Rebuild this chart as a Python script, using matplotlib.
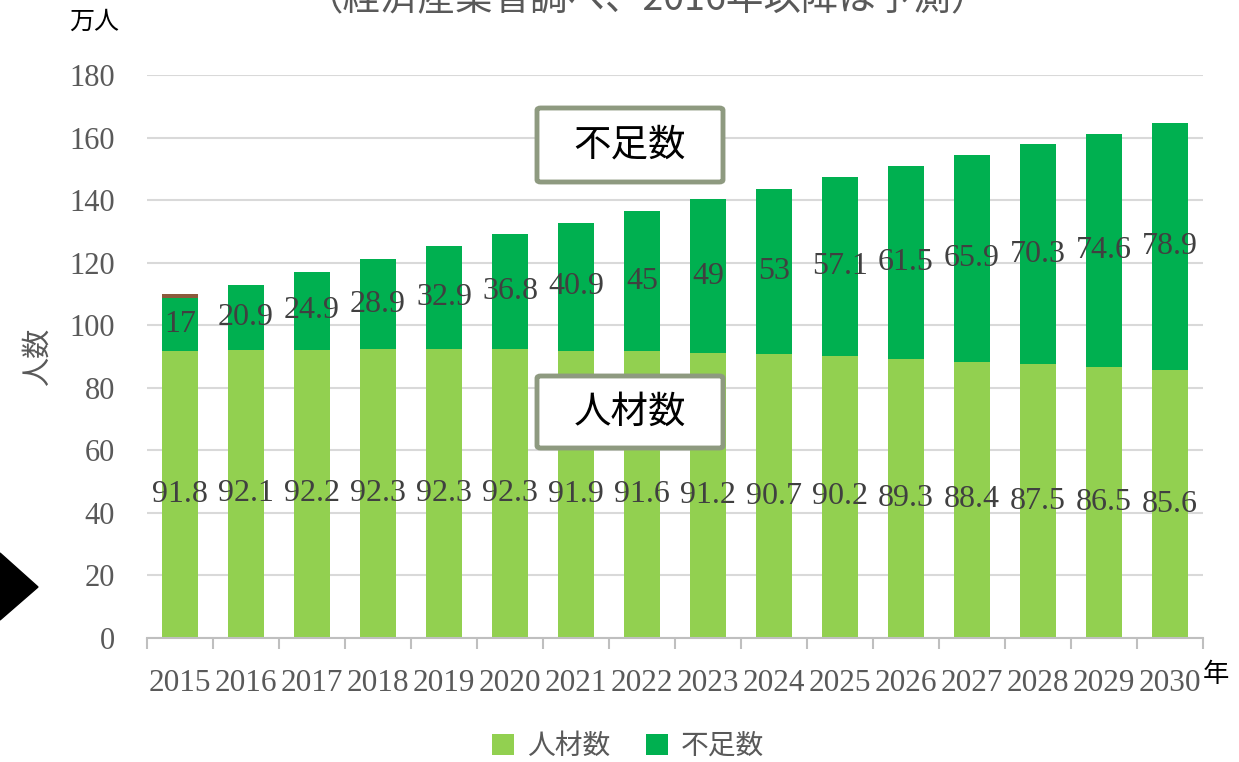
import matplotlib
matplotlib.use("Agg")
import matplotlib.pyplot as plt
from matplotlib.patches import Polygon, FancyBboxPatch
import numpy as np

CJK = ["Noto Sans CJK JP", "DejaVu Sans"]
SERIF = ["Liberation Serif", "DejaVu Serif"]

years = ["2015", "2016", "2017", "2018", "2019", "2020", "2021", "2022",
         "2023", "2024", "2025", "2026", "2027", "2028", "2029", "2030"]
jinzai = [91.8, 92.1, 92.2, 92.3, 92.3, 92.3, 91.9, 91.6,
          91.2, 90.7, 90.2, 89.3, 88.4, 87.5, 86.5, 85.6]
fusoku = [17, 20.9, 24.9, 28.9, 32.9, 36.8, 40.9, 45,
          49, 53, 57.1, 61.5, 65.9, 70.3, 74.6, 78.9]
cap_2015 = 1.3  # small brown segment on top of the 2015 bar

LIGHT = "#92D050"
GREEN = "#00B050"
BROWN = "#8B5A3C"
GRAY_TXT = "#595959"
LABEL_TXT = "#404040"
GRID = "#D9D9D9"
BOX = "#8E9A80"

W, H = 1239, 762
fig = plt.figure(figsize=(W / 100, H / 100), dpi=100, facecolor="white")
ax = fig.add_axes([147 / W, 1 - 638 / H, (1203 - 147) / W, (638 - 75) / H])

x = np.arange(len(years))
bw = 0.56
ax.bar(x, jinzai, bw, color=LIGHT, zorder=2, label="人材数")
ax.bar(x, fusoku, bw, bottom=jinzai, color=GREEN, zorder=2, label="不足数")
ax.bar(x[0], cap_2015, bw, bottom=jinzai[0] + fusoku[0], color=BROWN, zorder=2)

for xi, a, b in zip(x, jinzai, fusoku):
    ax.text(xi, a / 2, f"{a:g}", ha="center", va="center", fontsize=23,
            family=SERIF, color=LABEL_TXT, zorder=3)
    ax.text(xi, a + b / 2, f"{b:g}", ha="center", va="center", fontsize=23,
            family=SERIF, color=LABEL_TXT, zorder=3)

ax.set_xlim(-0.5, len(years) - 0.5)
ax.set_ylim(0, 180)
ax.set_yticks(np.arange(0, 181, 20))
ax.yaxis.grid(True, color=GRID, lw=1.5, zorder=0)
ax.set_axisbelow(True)
for s in ("top", "right", "left"):
    ax.spines[s].set_visible(False)
ax.spines["bottom"].set_color("#BFBFBF")
ax.spines["bottom"].set_linewidth(1.5)
ax.tick_params(axis="y", length=0, pad=23, labelsize=22, labelcolor=GRAY_TXT)
ax.set_yticklabels([str(v) for v in range(0, 181, 20)], family=SERIF)
ax.set_xticks(x)
ax.set_xticklabels(years, family=SERIF)
ax.tick_params(axis="x", which="major", length=0, pad=22, labelsize=22.5,
               labelcolor=GRAY_TXT)
ax.set_xticks(np.arange(-0.5, len(years)), minor=True)
ax.tick_params(axis="x", which="minor", length=8, width=1.5, color="#BFBFBF")

# axis captions
fig.text(38 / W, 1 - 357 / H, "人数", rotation=90, ha="center", va="center",
         fontsize=21, family=CJK, color=GRAY_TXT)
fig.text(94 / W, 1 - 22 / H, "万人", ha="center", va="center",
         fontsize=18, family=CJK, color="black")
fig.text(1216 / W, 1 - 674 / H, "年", ha="center", va="center",
         fontsize=19, family=CJK, color="black")
fig.text(648 / W, 1 + 1 / H, "（経済産業省調べ、2016年以降は予測）", ha="center",
         va="center", fontsize=27, family=CJK, color=GRAY_TXT)

# callout boxes
for label, y0, y1 in [("不足数", 108, 182), ("人材数", 376, 448)]:
    box = FancyBboxPatch((537 / W, 1 - y1 / H), (723 - 537) / W, (y1 - y0) / H,
                         boxstyle="round,pad=0,rounding_size=0.003",
                         transform=fig.transFigure, facecolor="white",
                         edgecolor=BOX, lw=3.5, zorder=5)
    fig.patches.append(box)
    fig.text(630 / W, 1 - (y0 + y1) / 2 / H, label, ha="center", va="center",
             fontsize=27, family=CJK, color="black", zorder=6)

# black arrow head on the left edge
tri = Polygon([(0, 1 - 553 / H), (38 / W, 1 - 587 / H), (0, 1 - 620 / H)],
              closed=True, transform=fig.transFigure, color="black")
fig.patches.append(tri)

leg = fig.legend(loc="center", bbox_to_anchor=(628 / W, 1 - 746 / H), ncol=2,
                 frameon=False, handlelength=0.8, handleheight=0.8,
                 handletextpad=0.45, columnspacing=1.3,
                 prop={"family": CJK, "size": 20})
for t in leg.get_texts():
    t.set_color(GRAY_TXT)

fig.savefig("out.png", dpi=100, facecolor="white")
